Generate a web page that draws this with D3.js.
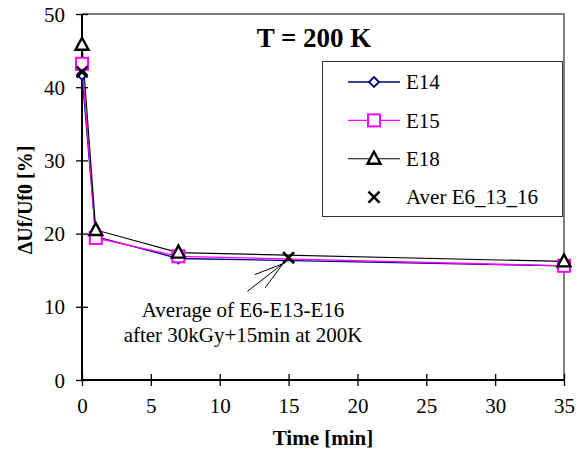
<!DOCTYPE html>
<html>
<head>
<meta charset="utf-8">
<script src="https://cdn.jsdelivr.net/npm/d3@7"></script>
<style>
  body { margin: 0; background: #fff; }
</style>
</head>
<body>
<div id="wrapper"></div>
<script>
// data
const timeE = [0, 1, 7, 35];
const e14 = [41.7, 19.6, 16.6, 15.6];
const e15 = [43.2, 19.4, 16.9, 15.6];
const e18 = [45.8, 20.5, 17.4, 16.2];
const timeAver = [0, 15];
const aver = [42.1, 16.7];
const xTicks = [0, 5, 10, 15, 20, 25, 30, 35];
const yTicks = [0, 10, 20, 30, 40, 50];
// leader lines of the note, in data units
const noteFrom = [14.6, 15.9];
const noteTo = [[12.0, 12.1], [12.55, 14.4], [13.3, 12.6]];

const FONT = '"Liberation Serif"';

function drawChart() {
  const dimensions = {
    width: 584,
    height: 452,
    margin: { top: 14, right: 20, bottom: 72, left: 82 },
  };
  dimensions.innerWidth = dimensions.width - dimensions.margin.left - dimensions.margin.right;
  dimensions.innerHeight = dimensions.height - dimensions.margin.top - dimensions.margin.bottom;

  const wrapper = d3.select('#wrapper')
    .append('svg')
    .attr('width', dimensions.width)
    .attr('height', dimensions.height);

  const bounds = wrapper.append('g')
    .attr('transform', `translate(${dimensions.margin.left},${dimensions.margin.top})`);

  const xScale = d3.scaleLinear().domain([0, 35]).range([0, dimensions.innerWidth]);
  const yScale = d3.scaleLinear().domain([0, 50]).range([dimensions.innerHeight, 0]);

  // frame (top and right in grey)
  bounds.append('path')
    .attr('d', `M0,${yScale(50)}H${xScale(35)}V${yScale(0)}`)
    .attr('fill', 'none')
    .attr('stroke', '#808080')
    .attr('stroke-width', 2);

  // axes
  const xAxis = bounds.append('g')
    .attr('transform', `translate(0,${dimensions.innerHeight})`)
    .call(d3.axisBottom(xScale).tickValues(xTicks).tickSize(12));
  xAxis.selectAll('.tick line').attr('transform', 'translate(0,-6)');
  xAxis.selectAll('.tick text').attr('dy', null).attr('y', 33);

  const yAxis = bounds.append('g')
    .call(d3.axisLeft(yScale).tickValues(yTicks).tickSize(12));
  yAxis.selectAll('.tick line').attr('transform', 'translate(6,0)');
  yAxis.selectAll('.tick text').attr('x', -17).attr('dy', '0.34em');

  [xAxis, yAxis].forEach((ax) => {
    ax.attr('font-family', null).attr('font-size', null);
    ax.select('.domain').attr('stroke', '#000').attr('stroke-width', 2);
    ax.selectAll('.tick line').attr('stroke', '#000').attr('stroke-width', 1.3);
    ax.selectAll('.tick text')
      .attr('fill', '#000')
      .style('font-size', '21px')
      .style('font-family', FONT);
  });
  xAxis.select('.domain').attr('d', `M0,0H${dimensions.innerWidth}`);
  yAxis.select('.domain').attr('d', `M0,0V${dimensions.innerHeight}`);

  // series
  const series = [
    { name: 'E14', xs: timeE, ys: e14, color: '#000080', width: 1.3, marker: 'diamond' },
    { name: 'E15', xs: timeE, ys: e15, color: '#ff00ff', width: 1.3, marker: 'square' },
    { name: 'E18', xs: timeE, ys: e18, color: '#000000', width: 1.1, marker: 'triangle' },
    { name: 'Aver E6_13_16', xs: timeAver, ys: aver, color: '#000000', width: 0, marker: 'cross' },
  ];

  const line = d3.line().x((d) => xScale(d[0])).y((d) => yScale(d[1]));

  series.forEach((s) => {
    if (s.width > 0) {
      bounds.append('path')
        .datum(s.xs.map((x, i) => [x, s.ys[i]]))
        .attr('d', line)
        .attr('fill', 'none')
        .attr('stroke', s.color)
        .attr('stroke-width', s.width);
    }
  });

  function drawMarker(g, type, color) {
    if (type === 'diamond') {
      g.append('path').attr('d', 'M0,-5L5,0L0,5L-5,0Z')
        .attr('fill', '#fff').attr('stroke', color).attr('stroke-width', 1.8);
    } else if (type === 'square') {
      g.append('rect').attr('x', -6).attr('y', -6).attr('width', 12).attr('height', 12)
        .attr('fill', '#fff').attr('stroke', color).attr('stroke-width', 2);
    } else if (type === 'triangle') {
      g.append('path').attr('d', 'M0,-7L6.5,5L-6.5,5Z')
        .attr('fill', '#fff').attr('stroke', color).attr('stroke-width', 2.4)
        .attr('stroke-linejoin', 'miter');
    } else {
      g.append('path').attr('d', 'M-5.5,-5.5L5.5,5.5M-5.5,5.5L5.5,-5.5')
        .attr('fill', 'none').attr('stroke', color).attr('stroke-width', 2.6);
    }
  }

  series.forEach((s) => {
    s.xs.forEach((x, i) => {
      const g = bounds.append('g')
        .attr('transform', `translate(${xScale(x)},${yScale(s.ys[i])})`);
      drawMarker(g, s.marker, s.color);
    });
  });

  // note with leader lines
  noteTo.forEach((p) => {
    bounds.append('line')
      .attr('x1', xScale(noteFrom[0])).attr('y1', yScale(noteFrom[1]))
      .attr('x2', xScale(p[0])).attr('y2', yScale(p[1]))
      .attr('stroke', '#000').attr('stroke-width', 1);
  });
  const noteX = 243 - dimensions.margin.left;
  const note = bounds.append('text')
    .attr('y', 317 - dimensions.margin.top)
    .attr('text-anchor', 'middle')
    .attr('fill', '#000')
    .style('font-family', FONT)
    .style('font-size', '21px');
  note.append('tspan').attr('x', noteX).text('Average of E6-E13-E16');
  note.append('tspan').attr('x', noteX).attr('dy', 25).text('after 30kGy+15min at 200K');

  // title
  wrapper.append('text')
    .attr('x', 314)
    .attr('y', 47)
    .attr('text-anchor', 'middle')
    .attr('fill', '#000')
    .style('font-family', FONT)
    .style('font-size', '27px')
    .style('font-weight', 'bold')
    .text('T = 200 K');

  // legend
  const legend = wrapper.append('g').attr('transform', 'translate(322,61)');
  legend.append('rect')
    .attr('x', 0.5).attr('y', 0.5).attr('width', 240).attr('height', 155)
    .attr('fill', '#fff').attr('stroke', '#333').attr('stroke-width', 1);
  series.forEach((s, i) => {
    const cy = 21 + i * 38.4;
    if (s.width > 0) {
      legend.append('line')
        .attr('x1', 26).attr('x2', 78).attr('y1', cy).attr('y2', cy)
        .attr('stroke', s.color).attr('stroke-width', s.width);
    }
    const g = legend.append('g').attr('transform', `translate(52,${cy})`);
    drawMarker(g, s.marker, s.color);
    legend.append('text')
      .attr('x', 84).attr('y', cy).attr('dy', '0.34em')
      .attr('fill', '#000')
      .style('font-family', FONT)
      .style('font-size', '21px')
      .text(s.name);
  });

  // axis titles
  wrapper.append('text')
    .attr('x', dimensions.margin.left + dimensions.innerWidth / 2)
    .attr('y', 445)
    .attr('text-anchor', 'middle')
    .attr('fill', '#000')
    .style('font-family', FONT)
    .style('font-size', '21px')
    .style('font-weight', 'bold')
    .text('Time [min]');

  wrapper.append('text')
    .attr('transform', 'translate(32,200) rotate(-90)')
    .attr('text-anchor', 'middle')
    .attr('fill', '#000')
    .style('font-family', FONT)
    .style('font-size', '20px')
    .style('font-weight', 'bold')
    .text('ΔUf/Uf0 [%]');
}

drawChart();
</script>
</body>
</html>
